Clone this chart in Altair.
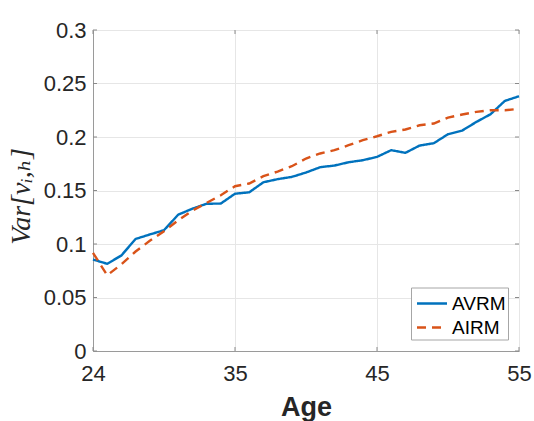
import altair as alt
import pandas as pd

# ---- data ----
ages = list(range(25, 56))
avrm = [0.0855, 0.0815, 0.0893, 0.1047, 0.1089, 0.1129, 0.1274, 0.1330, 0.1376, 0.1378,
        0.1470, 0.1483, 0.1577, 0.1606, 0.1627, 0.1668, 0.1718, 0.1733, 0.1764, 0.1783,
        0.1814, 0.1877, 0.1852, 0.1920, 0.1942, 0.2026, 0.2060, 0.2141, 0.2213, 0.2337,
        0.2381]
airm = [0.0917, 0.0708, 0.0810, 0.0930, 0.1030, 0.1120, 0.1222, 0.1312, 0.1384, 0.1456,
        0.1540, 0.1565, 0.1634, 0.1677, 0.1727, 0.1799, 0.1846, 0.1877, 0.1923, 0.1970,
        0.2007, 0.2048, 0.2070, 0.2110, 0.2126, 0.2182, 0.2210, 0.2235, 0.2250, 0.2250,
        0.2263]
series_names = ["AVRM", "AIRM"]
series_colors = ["#0072BD", "#D95319"]
x_ticks = [25, 35, 45, 55]
x_tick_labels = ["24", "35", "45", "55"]
y_ticks = [0, 0.05, 0.1, 0.15, 0.2, 0.25, 0.3]

df = pd.DataFrame({
    "Age": ages * 2,
    "Value": avrm + airm,
    "Series": [series_names[0]] * len(ages) + [series_names[1]] * len(ages),
})

label_expr = "datum.label"
for v, lab in zip(x_ticks, x_tick_labels):
    label_expr = f"datum.value == {v} ? '{lab}' : ({label_expr})"

x_scale = alt.Scale(domain=[25, 55], nice=False, zero=False)
y_scale = alt.Scale(domain=[0, 0.3], nice=False)

grid_col = "#e6e6e6"
box_col = "#9a9a9a"

x_axis = alt.Axis(
    values=x_ticks, labelExpr=label_expr, title="Age", grid=True,
    gridColor=grid_col, ticks=False, labelPadding=12, labelFontSize=22,
    labelFlush=False, labelOverlap=False,
    labelFont="Liberation Sans", labelColor="#262626", domainColor=box_col,
    titleFont="Liberation Sans", titleFontSize=27, titleFontWeight="bold",
    titleColor="#262626", titleY=64, titleBaseline="alphabetic")
y_axis = alt.Axis(
    values=y_ticks, format="~g", title="Var[vᵢ,ₕ]", grid=True,
    gridColor=grid_col, ticks=False, labelPadding=7, labelFontSize=22,
    labelFlush=False, labelOverlap=False,
    labelFont="Liberation Sans", labelColor="#262626", domainColor=box_col,
    titleFont="Liberation Serif, DejaVu Serif", titleFontStyle="italic",
    titleFontWeight="normal", titleFontSize=28, titleColor="#262626",
    titleAngle=270, titleX=-72, titleY=166, titleAlign="center",
    titleBaseline="middle")

legend = alt.Legend(
    title=None, orient="none", legendX=318, legendY=257.5, strokeColor="#a6a6a6",
    fillColor="white", padding=2, rowPadding=0, labelFontSize=19,
    labelFont="Liberation Sans", labelColor="#000000",
    symbolType="M-0.8,0L1.6,0", symbolSize=625, symbolStrokeWidth=2.4,
    labelOffset=11, cornerRadius=0)

lines = alt.Chart(df).mark_line(strokeWidth=2.4).encode(
    x=alt.X("Age:Q", scale=x_scale, axis=x_axis),
    y=alt.Y("Value:Q", scale=y_scale, axis=y_axis),
    color=alt.Color("Series:N", scale=alt.Scale(domain=series_names, range=series_colors),
                    legend=legend),
    strokeDash=alt.StrokeDash("Series:N",
                              scale=alt.Scale(domain=series_names, range=[[1, 0], [9, 6]]),
                              legend=legend),
)

ydf = pd.DataFrame({"Value": y_ticks})
xdf = pd.DataFrame({"Age": x_ticks})
tick_col = "#8a8a8a"
left_ticks = alt.Chart(ydf).mark_rule(color=tick_col, strokeWidth=1).encode(
    y=alt.Y("Value:Q", scale=y_scale, axis=y_axis), x=alt.value(0), x2=alt.value(4))
right_ticks = alt.Chart(ydf).mark_rule(color=tick_col, strokeWidth=1).encode(
    y=alt.Y("Value:Q", scale=y_scale, axis=y_axis), x=alt.value(422), x2=alt.value(426))
bottom_ticks = alt.Chart(xdf).mark_rule(color=tick_col, strokeWidth=1).encode(
    x=alt.X("Age:Q", scale=x_scale, axis=x_axis), y=alt.value(317), y2=alt.value(321))
top_ticks = alt.Chart(xdf).mark_rule(color=tick_col, strokeWidth=1).encode(
    x=alt.X("Age:Q", scale=x_scale, axis=x_axis), y=alt.value(0), y2=alt.value(4))

chart = alt.layer(lines, left_ticks, right_ticks, bottom_ticks, top_ticks).properties(
    width=426, height=321,
    autosize=alt.AutoSizeParams(type="none"),
    padding={"left": 93, "top": 30, "right": 15, "bottom": 70},
).configure_view(
    stroke=box_col, strokeWidth=1
).configure(background="white")

chart.save("out.html", embed_options={"renderer": "svg", "actions": False})
